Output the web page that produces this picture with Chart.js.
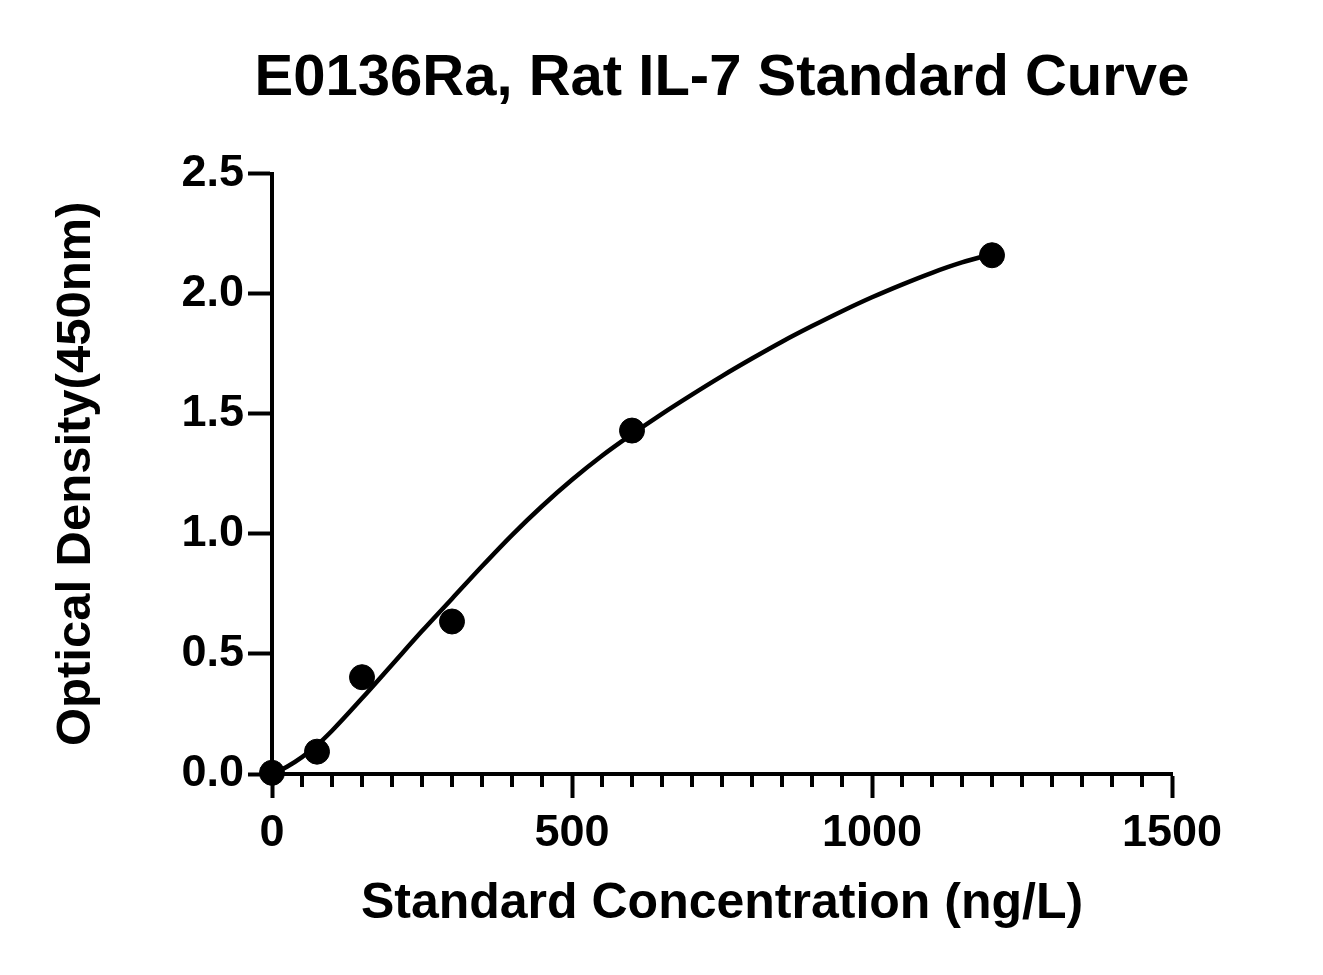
<!DOCTYPE html>
<html>
<head>
<meta charset="utf-8">
<title>E0136Ra, Rat IL-7 Standard Curve</title>
<script src="https://cdn.jsdelivr.net/npm/chart.js@4.4.1/dist/chart.umd.min.js"></script>
<style>
    html, body { margin: 0; padding: 0; background: #fff; }
    #wrap { width: 1323px; height: 975px; }
</style>
</head>
<body>
<div id="wrap"><canvas id="curveChart" width="1323" height="975"></canvas></div>
<script>
// Standards (measured points)
const stdConc = [0, 75, 150, 300, 600, 1200];
const stdOD = [0.005, 0.093, 0.403, 0.635, 1.43, 2.16];

// Fitted curve
const fitConc = [0, 25, 50, 75, 100, 150, 200, 250, 300, 350, 400, 450, 500, 550, 600,
                 650, 700, 750, 800, 850, 900, 950, 1000, 1050, 1100, 1150, 1200];
const fitOD = [0.0, 0.03, 0.07, 0.12, 0.18, 0.315, 0.455, 0.595, 0.73, 0.865, 0.995, 1.115, 1.225, 1.325, 1.415,
               1.50, 1.58, 1.657, 1.73, 1.80, 1.865, 1.927, 1.985, 2.038, 2.087, 2.13, 2.165];

// Axis ticks
const xTicks = [0, 500, 1000, 1500];
const xMinorStep = 50;
const yTicks = [0, 0.5, 1.0, 1.5, 2.0, 2.5];

const FONT = "'Liberation Sans', Arial, Helvetica, sans-serif";

// small ticks every 50 on the x axis
const minorTicks = {
    id: 'minorTicks',
    beforeDatasetsDraw(chart) {
        const x = chart.scales.x;
        const ctx = chart.ctx;
        const y0 = chart.chartArea.bottom;
        ctx.save();
        ctx.strokeStyle = '#000';
        ctx.lineWidth = 4;
        ctx.lineCap = 'butt';
        for (let v = x.min; v <= x.max; v += xMinorStep) {
            if (xTicks.includes(v)) continue;
            const px = Math.round(x.getPixelForValue(v));
            ctx.beginPath();
            ctx.moveTo(px, y0);
            ctx.lineTo(px, y0 + 13);
            ctx.stroke();
        }
        ctx.restore();
    }
};

// the title sits over the plot area but is a little wider than it,
// so give its box some room so the text is not squeezed
const wideTitle = {
    id: 'wideTitle',
    afterLayout(chart) {
        const t = chart.titleBlock;
        if (t) {
            t.left -= 30;
            t.right += 30;
            t.width = t.right - t.left;
        }
    }
};

document.addEventListener('DOMContentLoaded', function() {
    const ctx = document.getElementById('curveChart').getContext('2d');

    new Chart(ctx, {
        type: 'scatter',
        data: {
            datasets: [{
                label: 'Standards',
                data: stdConc.map((c, i) => ({ x: c, y: stdOD[i] })),
                backgroundColor: '#000',
                borderColor: '#000',
                pointRadius: 12.5,
                pointHoverRadius: 12.5,
                clip: false,
                order: 0
            }, {
                label: 'Fit',
                type: 'line',
                data: fitConc.map((c, i) => ({ x: c, y: fitOD[i] })),
                borderColor: '#000',
                borderWidth: 4.5,
                pointRadius: 0,
                cubicInterpolationMode: 'monotone',
                fill: false,
                clip: false,
                order: 1
            }]
        },
        options: {
            responsive: false,
            animation: false,
            devicePixelRatio: 1,
            layout: { padding: { left: 0, right: 151, top: 0, bottom: 0 } },
            plugins: {
                legend: { display: false },
                tooltip: { enabled: false },
                title: {
                    display: true,
                    fullSize: false,
                    text: 'E0136Ra, Rat IL-7 Standard Curve',
                    color: '#000',
                    font: { family: FONT, size: 58, weight: 'bold', lineHeight: 1.2 },
                    padding: { top: 44, bottom: 60 }
                }
            },
            scales: {
                x: {
                    type: 'linear',
                    min: 0,
                    max: 1500,
                    afterFit: function(scale) { scale.height = 201; },
                    afterBuildTicks: function(scale) {
                        scale.ticks = xTicks.map(v => ({ value: v }));
                    },
                    ticks: {
                        color: '#000',
                        padding: 9,
                        maxRotation: 0,
                        font: { family: FONT, size: 45, weight: 'bold', lineHeight: 1.2 },
                        callback: v => String(v)
                    },
                    grid: {
                        drawOnChartArea: false,
                        drawTicks: true,
                        tickLength: 24,
                        tickWidth: 4,
                        tickColor: '#000'
                    },
                    border: { display: true, width: 4, color: '#000' },
                    title: {
                        display: true,
                        text: 'Standard Concentration (ng/L)',
                        color: '#000',
                        font: { family: FONT, size: 50, weight: 'bold', lineHeight: 1.2 },
                        padding: { top: 0, bottom: 41 }
                    }
                },
                y: {
                    type: 'linear',
                    min: 0,
                    max: 2.5,
                    afterFit: function(scale) { scale.width = 272; },
                    afterBuildTicks: function(scale) {
                        scale.ticks = yTicks.map(v => ({ value: v }));
                    },
                    ticks: {
                        color: '#000',
                        padding: 4,
                        font: { family: FONT, size: 45, weight: 'bold', lineHeight: 1.2 },
                        callback: v => Number(v).toFixed(1)
                    },
                    grid: {
                        drawOnChartArea: false,
                        drawTicks: true,
                        tickLength: 24,
                        tickWidth: 4,
                        tickColor: '#000'
                    },
                    border: { display: true, width: 4, color: '#000' },
                    title: {
                        display: true,
                        text: 'Optical Density(450nm)',
                        color: '#000',
                        font: { family: FONT, size: 49, weight: 'bold', lineHeight: 1.2 },
                        padding: { top: 47, bottom: 0 }
                    }
                }
            }
        },
        plugins: [minorTicks, wideTitle]
    });
});
</script>
</body>
</html>
